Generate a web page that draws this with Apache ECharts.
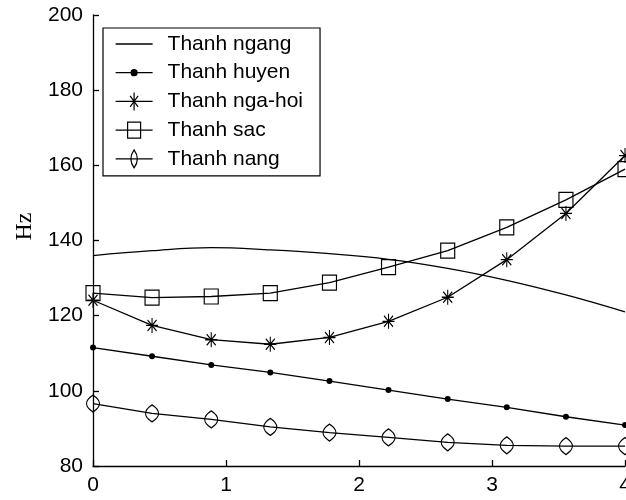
<!DOCTYPE html>
<html>
<head>
<meta charset="utf-8">
<script src="https://cdn.jsdelivr.net/npm/echarts@6/dist/echarts.min.js"></script>
<style>
  html, body { margin: 0; padding: 0; background: #fff; }
  #chart { width: 626px; height: 500px; }
</style>
</head>
<body>
<div id="chart"></div>
<script>
// sample positions along x (10 points from 0 to 4)
var xs = [0, 0.444, 0.889, 1.333, 1.778, 2.222, 2.667, 3.111, 3.556, 4];

var names = ['Thanh ngang', 'Thanh huyen', 'Thanh nga-hoi', 'Thanh sac', 'Thanh nang'];
var ngang   = [136.0, 137.3, 138.1, 137.5, 136.5, 135.0, 132.6, 129.4, 125.5, 121.0];
var huyen   = [111.5, 109.2, 106.9, 104.9, 102.6, 100.2, 97.8, 95.6, 93.1, 90.9];
var ngaHoi  = [124.1, 117.4, 113.6, 112.4, 114.2, 118.5, 124.9, 134.9, 147.2, 162.6];
var sac     = [126.0, 124.8, 125.1, 126.0, 128.8, 132.9, 137.3, 143.5, 150.8, 159.0];
var nang    = [96.6, 94.0, 92.4, 90.4, 88.9, 87.6, 86.3, 85.5, 85.3, 85.3];

var xTicks = [0, 1, 2, 3, 4];
var yTicks = [80, 100, 120, 140, 160, 180, 200];

var ink = '#000';
var sans = "'Liberation Sans', Arial, sans-serif";
var lw = 1.3;

var starPath = 'path://M6,0L6,15M0,7.5L12,7.5M1.5,2L10.5,13M1.5,13L10.5,2';
var lensPath = 'path://M6,0Q13,9 6,18Q-1,9 6,0Z';

function pairs(ys) {
	return xs.map(function (x, i) { return [x, ys[i]]; });
}

var chart = echarts.init(document.getElementById('chart'), null, { renderer: 'canvas' });

var hollow = { color: 'transparent', borderColor: ink, borderWidth: 1.2 };

var option = {
	animation: false,
	grid: { left: 93, right: 1, top: 15, bottom: 34, outerBoundsMode: 'none', containLabel: false },
	legend: {
		orient: 'vertical',
		left: 103,
		top: 28,
		padding: [4, 17, 5, 12],
		borderColor: ink,
		borderWidth: 1.2,
		itemWidth: 37,
		itemHeight: 20,
		itemGap: 4.7,
		selectedMode: false,
		textStyle: { fontFamily: sans, fontSize: 21, lineHeight: 24, color: ink, padding: [0, 0, 0, 10] },
		data: [
			{ name: names[0], icon: 'path://M0,0L37,0L37,1.3L0,1.3Z', itemStyle: { color: ink, borderWidth: 0 } },
			{ name: names[1], icon: 'path://M0,3L37,3M18.5,0A3,3 0 1 1 18.49,0Z', itemStyle: { color: ink, borderColor: ink, borderWidth: 1.2 } },
			{ name: names[2], icon: 'path://M0,9L37,9M18.5,0L18.5,18M14,9L23,9M14.5,3.5L22.5,14.5M14.5,14.5L22.5,3.5', itemStyle: hollow },
			{ name: names[3], icon: 'path://M0,8L37,8M12,0L25,0L25,16L12,16Z', itemStyle: hollow },
			{ name: names[4], icon: 'path://M0,9L37,9M18.5,0Q25,9 18.5,18Q12,9 18.5,0Z', itemStyle: hollow }
		]
	},
	xAxis: {
		type: 'value',
		min: 0, max: 4, interval: 1,
		axisLine: { lineStyle: { color: ink, width: lw } },
		axisTick: { inside: true, length: 6, lineStyle: { color: ink, width: lw } },
		axisLabel: {
			margin: 9, color: ink, fontFamily: sans, fontSize: 21,
			formatter: function (v) { return xTicks.indexOf(v) > -1 ? String(v) : ''; }
		},
		splitLine: { show: false }
	},
	yAxis: {
		type: 'value',
		min: 80, max: 200, interval: 20,
		name: 'Hz',
		nameLocation: 'middle',
		nameRotate: 90,
		nameGap: 56,
		nameTextStyle: { fontFamily: "'Liberation Serif', serif", fontSize: 24, color: ink, padding: [0, 0, 0, 28] },
		axisLine: { show: true, lineStyle: { color: ink, width: lw } },
		axisTick: { show: true, inside: true, length: 6, lineStyle: { color: ink, width: lw } },
		axisLabel: {
			margin: 10, color: ink, fontFamily: sans, fontSize: 21,
			formatter: function (v) { return yTicks.indexOf(v) > -1 ? String(v) : ''; }
		},
		splitLine: { show: false }
	},
	series: [
		{
			name: names[0], type: 'line', data: pairs(ngang), smooth: 0.4,
			symbol: 'none', clip: false,
			lineStyle: { color: ink, width: lw }, itemStyle: { color: ink }
		},
		{
			name: names[1], type: 'line', data: pairs(huyen),
			symbol: 'circle', symbolSize: 6, clip: false,
			lineStyle: { color: ink, width: lw }, itemStyle: { color: ink }
		},
		{
			name: names[2], type: 'line', data: pairs(ngaHoi),
			symbol: starPath, symbolSize: [12, 15], symbolKeepAspect: false, clip: false,
			lineStyle: { color: ink, width: lw }, itemStyle: hollow
		},
		{
			name: names[3], type: 'line', data: pairs(sac),
			symbol: 'rect', symbolSize: [14, 15], clip: false,
			lineStyle: { color: ink, width: lw }, itemStyle: hollow
		},
		{
			name: names[4], type: 'line', data: pairs(nang),
			symbol: lensPath, symbolSize: [13, 17], symbolKeepAspect: false, clip: false,
			lineStyle: { color: ink, width: lw }, itemStyle: hollow
		}
	]
};
chart.setOption(option);
</script>
</body>
</html>
